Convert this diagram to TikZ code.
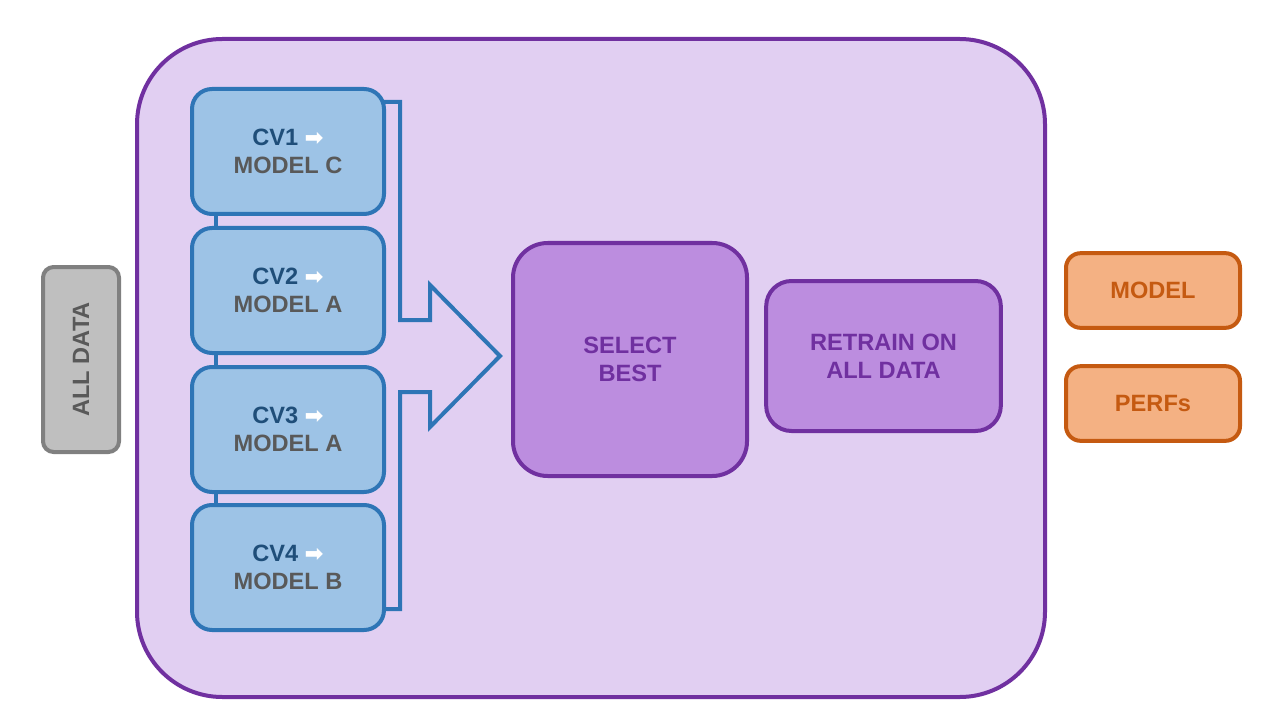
\documentclass[tikz,border=0pt]{standalone}
\usepackage{fontspec}
\setmainfont{Liberation Sans}
\newfontfamily\symfont{DejaVu Sans}
\usetikzlibrary{calc}
\definecolor{outerfill}{HTML}{E1CFF2}
\definecolor{purp}{HTML}{7030A0}
\definecolor{purpfill}{HTML}{BC8DDF}
\definecolor{bluefill}{HTML}{9DC3E6}
\definecolor{blueline}{HTML}{2E75B6}
\definecolor{bluetext}{HTML}{1F4E79}
\definecolor{graytext}{HTML}{595959}
\definecolor{grayfill}{HTML}{BFBFBF}
\definecolor{grayline}{HTML}{808080}
\definecolor{orfill}{HTML}{F4B183}
\definecolor{orline}{HTML}{C55A11}
\tikzset{
  txt/.style={font=\fontsize{17.7}{21}\selectfont\bfseries, align=center, inner sep=0pt},
  cvbox/.style={txt, draw=blueline, fill=bluefill, line width=3pt, rounded corners=15pt,
     minimum width=144pt, minimum height=93.75pt, font=\fontsize{17.7}{20.5}\selectfont\bfseries},
  purpbox/.style={txt, draw=purp, fill=purpfill, line width=3pt, text=purp},
  orbox/.style={txt, draw=orline, fill=orfill, line width=3pt, text=orline, rounded corners=11pt,
     minimum width=130.5pt, minimum height=56pt},
  link/.style={draw=blueline, line width=3pt},
}
\newcommand{\cvlabel}[2]{\textcolor{bluetext}{CV#1 \textcolor{white}{\symfont\fontsize{17}{17}\selectfont ➡}}\\\textcolor{graytext}{MODEL #2}}
\begin{document}
\begin{tikzpicture}[x=0.75pt,y=-0.75pt]
\useasboundingbox[fill=white] (0,0) rectangle (1280,720);
% outer container
\node[draw=purp, fill=outerfill, line width=3pt, rounded corners=64pt,
  minimum width=681pt, minimum height=493.5pt, inner sep=0pt] (outer) at (591,368) {};
% all data
\node[txt, draw=grayline, fill=grayfill, line width=3pt, rounded corners=8pt, text=graytext,
  minimum width=57pt, minimum height=138.75pt] (all) at (81,359.5) {};
\node[txt, text=graytext, rotate=90] (alltxt) at (81,359.5) {ALL DATA};
% CV boxes
\node[cvbox] (cv1) at (288,151.5) {\cvlabel{1}{C}};
\node[cvbox] (cv2) at (288,290.5) {\cvlabel{2}{A}};
\node[cvbox] (cv3) at (288,429.5) {\cvlabel{3}{A}};
\node[cvbox] (cv4) at (288,567.5) {\cvlabel{4}{B}};
\draw[link] ([xshift=19.5pt]cv1.south west) -- ([xshift=19.5pt]cv2.north west);
\draw[link] ([xshift=19.5pt]cv2.south west) -- ([xshift=19.5pt]cv3.north west);
\draw[link] ([xshift=19.5pt]cv3.south west) -- ([xshift=19.5pt]cv4.north west);
% bracket arrow
\draw[draw=blueline, line width=3pt, line join=miter]
  (384,102) -- (400,102) -- (400,320) -- (430,320) -- (430,285) -- (500,356)
  -- (430,427) -- (430,392) -- (400,392) -- (400,609) -- (384,609);
% select / retrain
\node[purpbox, rounded corners=26pt, minimum width=175.5pt, minimum height=174.75pt] (sel) at (630,359.5) {SELECT\\BEST};
\node[purpbox, rounded corners=19pt, minimum width=176pt, minimum height=112.5pt] (ret) at (883.5,356) {RETRAIN ON\\ALL DATA};
% outputs
\node[orbox] (model) at (1153,290.5) {MODEL};
\node[orbox] (perfs) at (1153,403.5) {PERFs};
\end{tikzpicture}
\end{document}
